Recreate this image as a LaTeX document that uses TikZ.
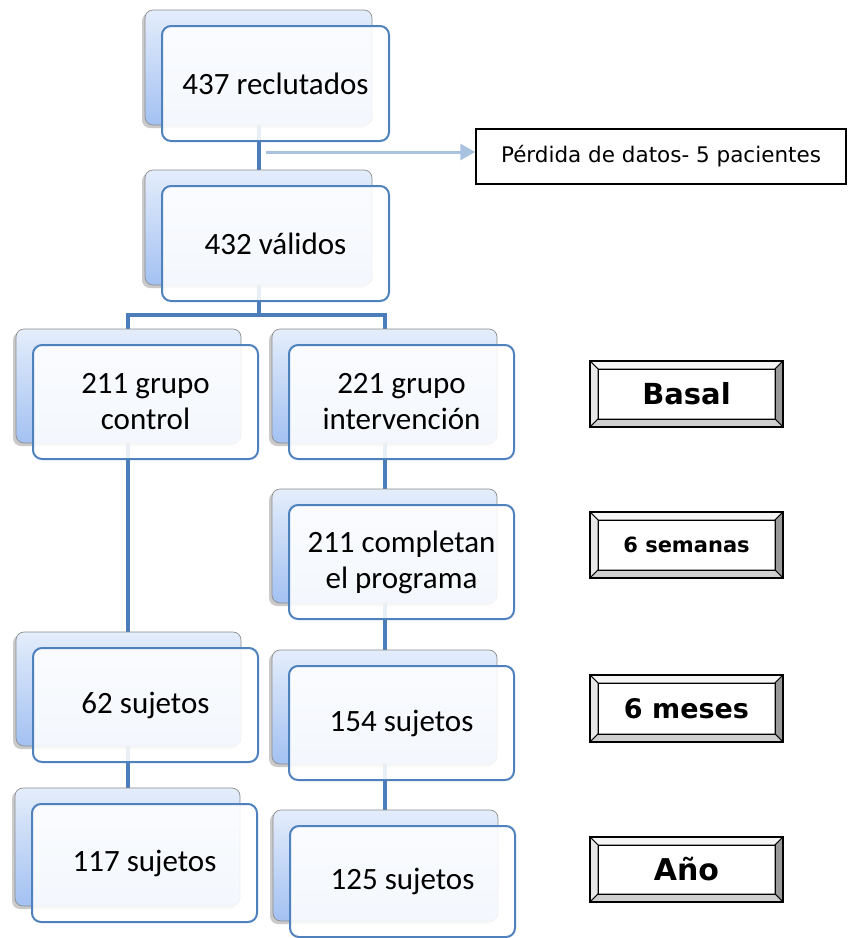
\documentclass[tikz,border=0pt]{standalone}
\usepackage{fontspec}
\setmainfont{Carlito}
\newfontfamily\vfont{DejaVu Sans}
\usetikzlibrary{arrows.meta,shadows,fit,calc}

\definecolor{linkblue}{HTML}{4A7DBA}
\definecolor{frontedge}{HTML}{4F81BD}
\definecolor{backtop}{HTML}{E4EDFB}
\definecolor{backbottom}{HTML}{A3C1F2}
\definecolor{arrowblue}{HTML}{A9C2E0}

\tikzset{
  backbox/.style={rounded corners=8pt, draw=black!45, line width=0.7pt,
    top color=backtop, bottom color=backbottom, inner sep=0pt,
    drop shadow={shadow xshift=-3pt, shadow yshift=-3pt, opacity=0.35, fill=black!60}},
  frontbox/.style={rounded corners=9pt, draw=frontedge, line width=2pt,
    fill=white, fill opacity=0.88, inner sep=0pt},
  boxtext/.style={align=center, inner sep=0pt, font=\fontsize{31}{36}\selectfont},
  link/.style={draw=linkblue, line width=4pt},
  lossbox/.style={draw=black, line width=1.4pt, fill=white, minimum width=370pt,
    minimum height=55pt, font=\vfont\fontsize{21.5}{25}\selectfont},
}

% a pair of stacked boxes: back box (#1-b), front box (#1) and its text (#1-t)
\newcommand\stackpair[6]{%
  \node[backbox, fit={(#2,#3) (#4,#5)}] (#1-b) {};
  \node[frontbox, fit={(#2+17,#3+16) (#4+17,#5+16)}] (#1) {};
  \node[boxtext] (#1-t) at (#1.center) {#6};
}

% a bevelled label button with a named text node
\newcommand\bevelbutton[7]{%
  \def\bw{8}%
  \fill[white] (#2,#3) rectangle (#4,#5);
  \filldraw[fill=black!4, draw=black, line width=0.8pt]
    (#2,#3) -- (#4,#3) -- (#4-\bw,#3+\bw) -- (#2+\bw,#3+\bw) -- cycle;
  \filldraw[fill=black!9, draw=black, line width=0.8pt]
    (#2,#3) -- (#2+\bw,#3+\bw) -- (#2+\bw,#5-\bw) -- (#2,#5) -- cycle;
  \filldraw[fill=black!40, draw=black, line width=0.8pt]
    (#4,#3) -- (#4,#5) -- (#4-\bw,#5-\bw) -- (#4-\bw,#3+\bw) -- cycle;
  \filldraw[fill=black!19, draw=black, line width=0.8pt]
    (#2,#5) -- (#2+\bw,#5-\bw) -- (#4-\bw,#5-\bw) -- (#4,#5) -- cycle;
  \draw[black, line width=1.3pt] (#2,#3) rectangle (#4,#5);
  \draw[black, line width=1pt] (#2+\bw,#3+\bw) rectangle (#4-\bw,#5-\bw);
  \node[font=\vfont\bfseries\fontsize{#6}{#6}\selectfont, inner sep=0pt]
    (#1) at ($(#2,#3)!0.5!(#4,#5)$) {#7};
}

\begin{document}
\begin{tikzpicture}[x=1pt, y=-1pt]
\useasboundingbox (0,0) rectangle (847,938);

% connectors sit behind the boxes
\draw[link] (259,125) -- (259,170);
\draw[link] (259,285) -- (259,315) -| (128,329);
\draw[link] (259,315) -| (385,329);
\draw[link] (128,443) -- (128,632);
\draw[link] (128,746) -- (128,788);
\draw[link] (385,443) -- (385,489);
\draw[link] (385,603) -- (385,650);
\draw[link] (385,764) -- (385,810);

% boxes
\stackpair{n1}{145}{10}{372}{125}{437 reclutados}
\stackpair{n2}{145}{170}{372}{285}{432 válidos}
\stackpair{n3}{16}{329}{241}{443}{211 grupo\\control}
\stackpair{n4}{272}{329}{497}{443}{221 grupo\\intervención}
\stackpair{n5}{272}{489}{497}{603}{211 completan\\el programa}
\stackpair{n6}{16}{632}{241}{746}{62 sujetos}
\stackpair{n7}{272}{650}{497}{764}{154 sujetos}
\stackpair{n8}{15}{788}{240}{906}{117 sujetos}
\stackpair{n9}{273}{810}{498}{921}{125 sujetos}

% drop-out note
\node[lossbox] (loss) at (661,156.5) {Pérdida de datos- 5 pacientes};
\coordinate (lossfrom) at (266,152);
\draw[draw=arrowblue, line width=3pt, -{Triangle[length=15pt,width=16pt]}]
  (lossfrom) -- (lossfrom -| loss.west);

% time-point labels
\bevelbutton{tBasal}{590}{361}{783}{427}{29}{Basal}
\bevelbutton{tSem}{590}{512}{783}{578}{21}{6 semanas}
\bevelbutton{tMes}{590}{675}{783}{742}{27}{6 meses}
\bevelbutton{tAno}{590}{837}{783}{902}{30}{Año}
\end{tikzpicture}
\end{document}
